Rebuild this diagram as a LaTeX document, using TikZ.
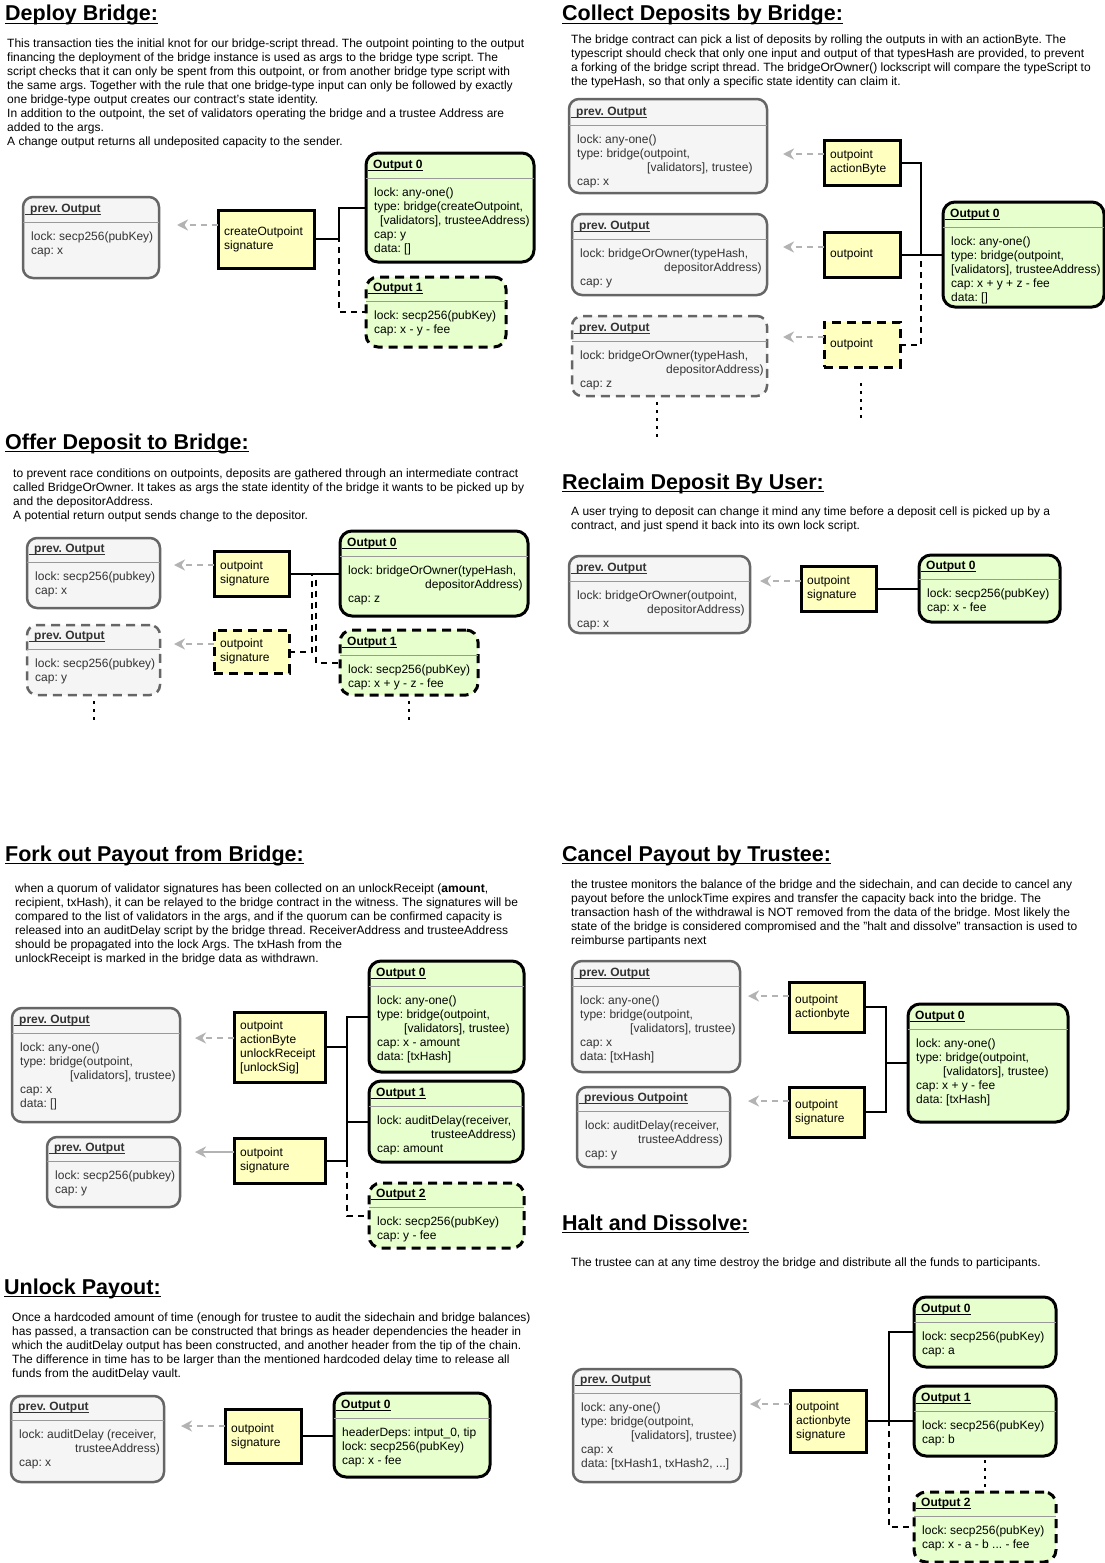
\documentclass[tikz,border=0pt]{standalone}
\usepackage{fontspec}
\setmainfont{Liberation Sans}
\usetikzlibrary{fit,arrows.meta}
\frenchspacing
\definecolor{prevfill}{HTML}{F5F5F5}
\definecolor{prevdraw}{HTML}{666666}
\definecolor{outfill}{HTML}{E6FFCC}
\definecolor{witfill}{HTML}{FFFFC0}
\definecolor{arrgray}{HTML}{B3B3B3}
\definecolor{sepgray}{HTML}{999999}
\definecolor{txtgray}{HTML}{333333}
\tikzset{
  prevbox/.style={draw=prevdraw, fill=prevfill, line width=2.5pt, rounded corners=10pt, inner sep=0pt, outer sep=0pt},
  prevdash/.style={prevbox, dash pattern=on 9pt off 6pt},
  outbox/.style={draw=black, fill=outfill, line width=3pt, rounded corners=12pt, inner sep=0pt, outer sep=0pt},
  outdash/.style={outbox, dash pattern=on 9pt off 6pt},
  witbox/.style={draw=black, fill=witfill, line width=3pt, inner sep=0pt, outer sep=0pt},
  witdash/.style={witbox, dash pattern=on 9pt off 6pt},
  prevboxtxt/.style={color=txtgray},
  prevdashtxt/.style={color=txtgray},
  outboxtxt/.style={color=black},
  outdashtxt/.style={color=black},
  sepline/.style={draw=sepgray, line width=1pt},
  hdr/.style={font=\fontsize{12}{14}\selectfont\bfseries, inner sep=0pt, anchor=base west},
  hline/.style={line width=1pt},
  body/.style={font=\fontsize{12}{14}\selectfont, inner sep=0pt, anchor=base west},
  witxt/.style={font=\fontsize{12}{14}\selectfont, inner sep=0pt, anchor=west, align=left},
  ttl/.style={font=\fontsize{21.5}{26}\selectfont\bfseries, inner sep=0pt, anchor=base west},
  tline/.style={line width=1.8pt},
  link/.style={draw=black, line width=2pt},
  dlink/.style={link, dash pattern=on 6pt off 5pt},
  arr/.style={draw=arrgray, line width=2pt, dash pattern=on 6pt off 5pt, -{Stealth[length=11pt,width=11pt,inset=3.5pt,fill=arrgray]}},
  sarr/.style={draw=arrgray, line width=2pt, -{Stealth[length=11pt,width=11pt,inset=3.5pt,fill=arrgray]}},
  dots/.style={draw=black, line width=2.5pt, dash pattern=on 2.5pt off 5.5pt},
}
\newcommand\ml[1]{\vtop{\let\\\cr\halign{##\hfil\cr#1\crcr}}}
\newcommand\cellbox[9]{%
  \node[#2, fit={(#3,#4) (#5,#6)}] (#1) {};
  \draw[sepline] (#3,#7) -- (#5,#7);
  \node[hdr, #2txt] (#1h) at ({#3+7},{#7-9.5}) {#8};
  \draw[hline, #2txt] ([xshift=-5pt,yshift=-1.5pt]#1h.base west) -- ([yshift=-1.5pt]#1h.base east);
  \node[body, #2txt] (#1b) at ({#3+8},{#7+18.5}) {\ml{#9}};
}
\newcommand\witness[7]{%
  \node[#2, fit={(#3,#4) (#5,#6)}] (#1) {};
  \node[witxt] (#1t) at ([xshift=6pt]#1.west) {#7};
}
\newcommand\ttitle[4]{%
  \node[ttl] (#1) at (#2,#3) {#4};
  \draw[tline] ([yshift=-2.5pt]#1.base west) -- ([yshift=-2.5pt]#1.base east);
}
\begin{document}
\begin{tikzpicture}[x=1pt,y=-1pt]
\useasboundingbox (0,0) rectangle (1105,1563);
\fill[white] (0,0) rectangle (1105,1563);

% ---------------- Deploy Bridge
\ttitle{t1}{5}{21}{Deploy Bridge:}
\node[body] (d1) at (7,48) {\ml{This transaction ties the initial knot for our bridge-script thread. The outpoint pointing to the output\\financing the deployment of the bridge instance is used as args to the bridge type script. The\\script checks that it can only be spent from this outpoint, or from another bridge type script with\\the same args. Together with the rule that one bridge-type input can only be followed by exactly\\one bridge-type output creates our contract's state identity.\\In addition to the outpoint, the set of validators operating the bridge and a trustee Address are\\added to the args.\\A change output returns all undeposited capacity to the sender.}};
\cellbox{dp}{prevbox}{23}{197}{159}{278}{222}{prev. Output}{lock: secp256(pubKey)\\cap: x}
\witness{dw}{witbox}{218}{210}{314}{268}{createOutpoint\\signature}
\cellbox{doa}{outbox}{366}{153}{534}{262}{178}{Output 0}{lock: any-one()\\type: bridge(createOutpoint,\\\hspace*{6pt}[validators], trusteeAddress)\\cap: y\\data: []}
\cellbox{dob}{outdash}{366}{277}{506}{347}{301}{Output 1}{lock: secp256(pubKey)\\cap: x - y - fee}
\draw[arr, shorten >=18pt] (dw.west |- 0,225) -- (dp.east |- 0,225);
\draw[link] (dw.east) -- (dw.east -| 339,0) |- (doa.west);
\draw[dlink] (dw.east) -- (dw.east -| 339,0) |- (dob.west);

% ---------------- Collect Deposits
\ttitle{t2}{562}{21}{Collect Deposits by Bridge:}
\node[body] (d2) at (571,44) {\ml{The bridge contract can pick a list of deposits by rolling the outputs in with an actionByte. The\\typescript should check that only one input and output of that typesHash are provided, to prevent\\a forking of the bridge script thread. The bridgeOrOwner() lockscript will compare the typeScript to\\the typeHash, so that only a specific state identity can claim it.}};
\cellbox{cpa}{prevbox}{569}{99}{767}{193}{125}{prev. Output}{lock: any-one()\\type: bridge(outpoint,\\\hspace*{70pt}[validators], trustee)\\cap: x}
\cellbox{cpb}{prevbox}{572}{214}{767}{295}{239}{prev. Output}{lock: bridgeOrOwner(typeHash,\\\hspace*{84pt}depositorAddress)\\cap: y}
\cellbox{cpc}{prevdash}{572}{316}{767}{396}{341}{prev. Output}{lock: bridgeOrOwner(typeHash,\\\hspace*{86pt}depositorAddress)\\cap: z}
\witness{cwa}{witbox}{824}{140}{900}{185}{outpoint\\actionByte}
\witness{cwb}{witbox}{824}{232}{900}{277}{outpoint}
\witness{cwc}{witdash}{824}{322}{900}{367}{outpoint}
\cellbox{co}{outbox}{943}{202}{1104}{307}{227}{Output 0}{lock: any-one()\\type: bridge(outpoint,\\{}[validators], trusteeAddress)\\cap: x + y + z - fee\\data: []}
\draw[arr, shorten >=16pt] (cwa.west |- 0,154) -- (cpa.east |- 0,154);
\draw[arr, shorten >=16pt] (cwb.west |- 0,247) -- (cpb.east |- 0,247);
\draw[arr, shorten >=16pt] (cwc.west |- 0,337) -- (cpc.east |- 0,337);
\draw[link] (cwa.east) -- (cwa.east -| 921,0) |- (co.west);
\draw[link] (cwb.east) -- (co.west);
\draw[dlink] (cwc.east) -- (cwc.east -| 921,0) |- (co.west);
\coordinate (cda) at (657,402); \coordinate (cdb) at (657,438);
\draw[dots] (cda) -- (cdb);
\coordinate (cdc) at (861,383); \coordinate (cdd) at (861,422);
\draw[dots] (cdc) -- (cdd);

% ---------------- Offer Deposit
\ttitle{t3}{5}{449}{Offer Deposit to Bridge:}
\node[body] (d3) at (13,477) {\ml{to prevent race conditions on outpoints, deposits are gathered through an intermediate contract\\called BridgeOrOwner. It takes as args the state identity of the bridge it wants to be picked up by\\and the depositorAddress.\\A potential return output sends change to the depositor.}};
\cellbox{opa}{prevbox}{27}{538}{160}{608}{562}{prev. Output}{lock: secp256(pubkey)\\cap: x}
\cellbox{opb}{prevdash}{27}{625}{160}{695}{649}{prev. Output}{lock: secp256(pubkey)\\cap: y}
\witness{owa}{witbox}{214}{551}{289}{596}{outpoint\\signature}
\witness{owb}{witdash}{214}{630}{289}{673}{outpoint\\signature}
\cellbox{ooa}{outbox}{340}{531}{528}{616}{556}{Output 0}{lock: bridgeOrOwner(typeHash,\\\hspace*{77pt}depositorAddress)\\cap: z}
\cellbox{oob}{outdash}{340}{630}{478}{695}{655}{Output 1}{lock: secp256(pubKey)\\cap: x + y - z - fee}
\draw[arr, shorten >=14pt] (owa.west |- 0,565) -- (opa.east |- 0,565);
\draw[arr, shorten >=14pt] (owb.west |- 0,644) -- (opb.east |- 0,644);
\draw[link] (owa.east) -- (ooa.west);
\draw[dlink] (owa.east) -- (owa.east -| 316,0) |- (oob.west);
\draw[dlink] (owb.east) -- (owb.east -| 312,0) |- (ooa.west);
\coordinate (oda) at (94,701); \coordinate (odb) at (94,722);
\draw[dots] (oda) -- (odb);
\coordinate (odc) at (409,701); \coordinate (odd) at (409,722);
\draw[dots] (odc) -- (odd);

% ---------------- Reclaim Deposit
\ttitle{t4}{562}{489}{Reclaim Deposit By User:}
\node[body] (d4) at (571,515) {\ml{A user trying to deposit can change it mind any time before a deposit cell is picked up by a\\contract, and just spend it back into its own lock script.}};
\cellbox{rp}{prevbox}{569}{556}{750}{633}{581}{prev. Output}{lock: bridgeOrOwner(outpoint,\\\hspace*{70pt}depositorAddress)\\cap: x}
\witness{rw}{witbox}{801}{566}{876}{611}{outpoint\\signature}
\cellbox{ro}{outbox}{919}{555}{1060}{622}{579}{Output 0}{lock: secp256(pubKey)\\cap: x - fee}
\draw[arr, shorten >=10pt] (rw.west |- 0,581) -- (rp.east |- 0,581);
\draw[link] (rw.east) -- (ro.west);

% ---------------- Fork out Payout
\ttitle{t5}{5}{861}{Fork out Payout from Bridge:}
\node[body] (d5) at (15,892) {\ml{when a quorum of validator signatures has been collected on an unlockReceipt (\textbf{amount},\\recipient, txHash), it can be relayed to the bridge contract in the witness. The signatures will be\\compared to the list of validators in the args, and if the quorum can be confirmed capacity is\\released into an auditDelay script by the bridge thread. ReceiverAddress and trusteeAddress\\should be propagated into the lock Args. The txHash from the\\unlockReceipt is marked in the bridge data as withdrawn.}};
\cellbox{fpa}{prevbox}{12}{1008}{180}{1122}{1033}{prev. Output}{lock: any-one()\\type: bridge(outpoint,\\\hspace*{50pt}[validators], trustee)\\cap: x\\data: []}
\cellbox{fpb}{prevbox}{47}{1137}{180}{1207}{1161}{prev. Output}{lock: secp256(pubkey)\\cap: y}
\witness{fwa}{witbox}{234}{1012}{325}{1082}{outpoint\\actionByte\\unlockReceipt\\{}[unlockSig]}
\witness{fwb}{witbox}{234}{1138}{325}{1183}{outpoint\\signature}
\cellbox{foa}{outbox}{369}{961}{524}{1072}{986}{Output 0}{lock: any-one()\\type: bridge(outpoint,\\\hspace*{27pt}[validators], trustee)\\cap: x - amount\\data: [txHash]}
\cellbox{fob}{outbox}{369}{1081}{523}{1162}{1106}{Output 1}{lock: auditDelay(receiver,\\\hspace*{54pt}trusteeAddress)\\cap: amount}
\cellbox{foc}{outdash}{369}{1183}{524}{1248}{1207}{Output 2}{lock: secp256(pubKey)\\cap: y - fee}
\draw[arr, shorten >=15pt] (fwa.west |- 0,1038) -- (fpa.east |- 0,1038);
\draw[sarr, shorten >=15pt] (fwb.west |- 0,1152) -- (fpb.east |- 0,1152);
\draw[link] (fwa.east) -- (fwa.east -| 347,0) |- (foa.west);
\draw[link] (fwa.east) -- (fwa.east -| 347,0) |- (fob.west);
\draw[link] (fwb.east) -- (fwb.east -| 347,0) |- (foa.west);
\draw[dlink] (fwb.east) -- (fwb.east -| 347,0) |- (foc.west);

% ---------------- Cancel Payout
\ttitle{t6}{562}{861}{Cancel Payout by Trustee:}
\node[body] (d6) at (571,888) {\ml{the trustee monitors the balance of the bridge and the sidechain, and can decide to cancel any\\payout before the unlockTime expires and transfer the capacity back into the bridge. The\\transaction hash of the withdrawal is NOT removed from the data of the bridge. Most likely the\\state of the bridge is considered compromised and the "halt and dissolve" transaction is used to\\reimburse partipants next}};
\cellbox{kpa}{prevbox}{572}{961}{740}{1072}{986}{prev. Output}{lock: any-one()\\type: bridge(outpoint,\\\hspace*{50pt}[validators], trustee)\\cap: x\\data: [txHash]}
\cellbox{kpb}{prevbox}{577}{1087}{730}{1167}{1111}{previous Outpoint}{lock: auditDelay(receiver,\\\hspace*{53pt}trusteeAddress)\\cap: y}
\witness{kwa}{witbox}{789}{982}{864}{1032}{outpoint\\actionbyte}
\witness{kwb}{witbox}{789}{1087}{864}{1137}{outpoint\\signature}
\cellbox{ko}{outbox}{908}{1004}{1068}{1122}{1029}{Output 0}{lock: any-one()\\type: bridge(outpoint,\\\hspace*{27pt}[validators], trustee)\\cap: x + y - fee\\data: [txHash]}
\draw[arr, shorten >=8pt] (kwa.west |- 0,996) -- (kpa.east |- 0,996);
\draw[arr, shorten >=18pt] (kwb.west |- 0,1101) -- (kpb.east |- 0,1101);
\draw[link] (kwa.east) -- (kwa.east -| 886,0) |- (ko.west);
\draw[link] (kwb.east) -- (kwb.east -| 886,0) |- (ko.west);

% ---------------- Unlock Payout
\ttitle{t7}{4}{1294}{Unlock Payout:}
\node[body] (d7) at (12,1321) {\ml{Once a hardcoded amount of time (enough for trustee to audit the sidechain and bridge balances)\\has passed, a transaction can be constructed that brings as header dependencies the header in\\which the auditDelay output has been constructed, and another header from the tip of the chain.\\The difference in time has to be larger than the mentioned hardcoded delay time to release all\\funds from the auditDelay vault.}};
\cellbox{up}{prevbox}{11}{1396}{164}{1482}{1420}{prev. Output}{lock: auditDelay (receiver,\\\hspace*{56pt}trusteeAddress)\\cap: x}
\witness{uw}{witbox}{225}{1409}{301}{1463}{outpoint\\signature}
\cellbox{uo}{outbox}{334}{1393}{490}{1477}{1418}{Output 0}{headerDeps: intput\_0, tip\\lock: secp256(pubKey)\\cap: x - fee}
\draw[arr, shorten >=17pt] (uw.west |- 0,1426) -- (up.east |- 0,1426);
\draw[link] (uw.east) -- (uo.west |- uw.east);

% ---------------- Halt and Dissolve
\ttitle{t8}{562}{1230}{Halt and Dissolve:}
\node[body] (d8) at (571,1266) {\ml{The trustee can at any time destroy the bridge and distribute all the funds to participants.}};
\cellbox{hp}{prevbox}{573}{1369}{741}{1482}{1393}{prev. Output}{lock: any-one()\\type: bridge(outpoint,\\\hspace*{50pt}[validators], trustee)\\cap: x\\data: [txHash1, txHash2, ...]}
\witness{hw}{witbox}{790}{1390}{866}{1452}{outpoint\\actionbyte\\signature}
\cellbox{hoa}{outbox}{914}{1297}{1056}{1367}{1322}{Output 0}{lock: secp256(pubKey)\\cap: a}
\cellbox{hob}{outbox}{914}{1386}{1056}{1456}{1411}{Output 1}{lock: secp256(pubKey)\\cap: b}
\cellbox{hoc}{outdash}{914}{1492}{1056}{1562}{1516}{Output 2}{lock: secp256(pubKey)\\cap: x - a - b ... - fee}
\draw[arr, shorten >=9pt] (hw.west |- 0,1404) -- (hp.east |- 0,1404);
\draw[link] (hw.east) -- (hob.west);
\draw[link] (hw.east) -- (hw.east -| 889,0) |- (hoa.west);
\draw[dlink] (hw.east) -- (hw.east -| 889,0) |- (hoc.west);
\coordinate (hda) at (985,1460); \coordinate (hdb) at (985,1490);
\draw[dots] (hda) -- (hdb);
\end{tikzpicture}
\end{document}
